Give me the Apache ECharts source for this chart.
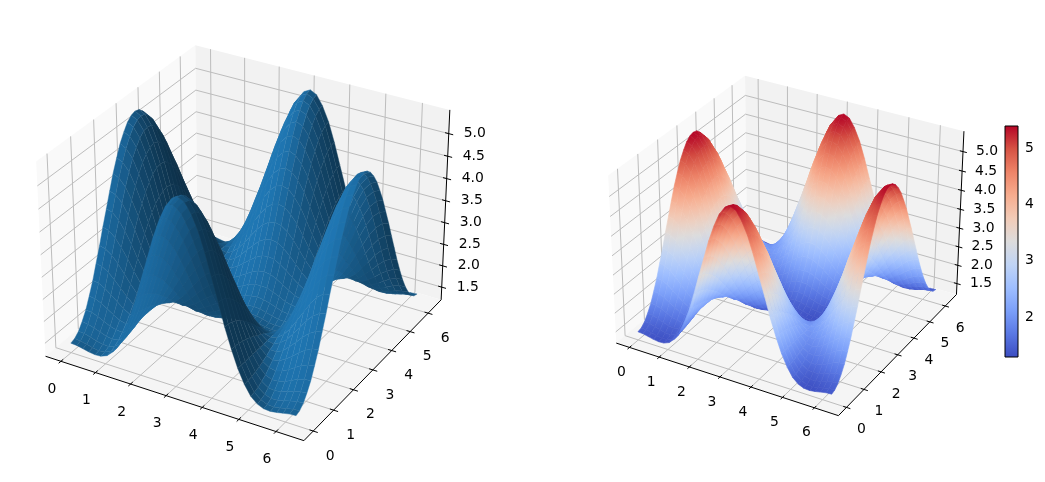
<!DOCTYPE html>
<html>
<head>
<meta charset="utf-8">
<style>html,body{margin:0;background:#fff}#main{width:1045px;height:482px}</style>
<script src="https://cdn.jsdelivr.net/npm/echarts@6/dist/echarts.min.js"></script>
</head>
<body>
<div id="main"></div>
<script>
// surface samples, one row per x
const gridX = [0,0.17,0.35,0.52,0.7,0.87,1.05,1.22,1.4,1.57,1.75,1.92,2.09,2.27,2.44,2.62,2.79,2.97,3.14,3.32,3.49,3.67,3.84,4.01,4.19,4.36,4.54,4.71,4.89,5.06,5.24,5.41,5.59,5.76,5.93,6.11,6.28];
const gridY = gridX;
const rowA = [1.42,1.45,1.54,1.69,1.88,2.13,2.41,2.73,3.06,3.41,3.75,4.08,4.40,4.68,4.93,5.12,5.27,5.36,5.39,5.36,5.27,5.12,4.93,4.68,4.40,4.08,3.75,3.41,3.06,2.73,2.41,2.13,1.88,1.69,1.54,1.45,1.42];
const rowB = [1.41,1.44,1.53,1.67,1.87,2.11,2.39,2.70,3.02,3.37,3.71,4.03,4.34,4.62,4.86,5.06,5.20,5.29,5.32,5.29,5.20,5.06,4.86,4.62,4.34,4.03,3.71,3.37,3.02,2.70,2.39,2.11,1.87,1.67,1.53,1.44,1.41];
const rowC = [1.38,1.41,1.49,1.63,1.82,2.05,2.31,2.61,2.92,3.25,3.57,3.89,4.18,4.45,4.68,4.86,5.00,5.09,5.11,5.09,5.00,4.86,4.68,4.45,4.18,3.89,3.57,3.25,2.92,2.61,2.31,2.05,1.82,1.63,1.49,1.41,1.38];
const rowD = [1.35,1.37,1.45,1.58,1.75,1.96,2.21,2.48,2.77,3.07,3.37,3.66,3.93,4.17,4.38,4.56,4.68,4.76,4.79,4.76,4.68,4.56,4.38,4.17,3.93,3.66,3.37,3.07,2.77,2.48,2.21,1.96,1.75,1.58,1.45,1.37,1.35];
const rowE = [1.33,1.35,1.42,1.53,1.68,1.87,2.09,2.33,2.58,2.85,3.11,3.37,3.61,3.82,4.01,4.16,4.28,4.35,4.37,4.35,4.28,4.16,4.01,3.82,3.61,3.37,3.11,2.85,2.58,2.33,2.09,1.87,1.68,1.53,1.42,1.35,1.33];
const rowF = [1.34,1.36,1.41,1.51,1.64,1.79,1.98,2.18,2.39,2.61,2.83,3.05,3.25,3.43,3.59,3.72,3.81,3.87,3.89,3.87,3.81,3.72,3.59,3.43,3.25,3.05,2.83,2.61,2.39,2.18,1.98,1.79,1.64,1.51,1.41,1.36,1.34];
const rowG = [1.40,1.42,1.46,1.53,1.63,1.75,1.90,2.05,2.22,2.39,2.57,2.73,2.89,3.03,3.15,3.25,3.33,3.37,3.39,3.37,3.33,3.25,3.15,3.03,2.89,2.73,2.57,2.39,2.22,2.05,1.90,1.75,1.63,1.53,1.46,1.42,1.40];
const rowH = [1.53,1.54,1.57,1.63,1.69,1.78,1.87,1.98,2.10,2.21,2.33,2.45,2.55,2.65,2.73,2.80,2.85,2.88,2.89,2.88,2.85,2.80,2.73,2.65,2.55,2.45,2.33,2.21,2.10,1.98,1.87,1.78,1.69,1.63,1.57,1.54,1.53];
const rowI = [1.75,1.76,1.77,1.80,1.83,1.87,1.92,1.98,2.03,2.10,2.16,2.21,2.27,2.32,2.36,2.39,2.42,2.44,2.44,2.44,2.42,2.39,2.36,2.32,2.27,2.21,2.16,2.10,2.03,1.98,1.92,1.87,1.83,1.80,1.77,1.76,1.75];
const rowJ = [2.06,2.06,2.06,2.06,2.06,2.06,2.06,2.06,2.06,2.06,2.06,2.06,2.06,2.06,2.06,2.06,2.06,2.06,2.06,2.06,2.06,2.06,2.06,2.06,2.06,2.06,2.06,2.06,2.06,2.06,2.06,2.06,2.06,2.06,2.06,2.06,2.06];
const rowK = [2.44,2.44,2.42,2.39,2.36,2.32,2.27,2.21,2.16,2.10,2.03,1.98,1.92,1.87,1.83,1.80,1.77,1.76,1.75,1.76,1.77,1.80,1.83,1.87,1.92,1.98,2.03,2.10,2.16,2.21,2.27,2.32,2.36,2.39,2.42,2.44,2.44];
const rowL = [2.89,2.88,2.85,2.80,2.73,2.65,2.55,2.45,2.33,2.21,2.10,1.98,1.87,1.78,1.69,1.63,1.57,1.54,1.53,1.54,1.57,1.63,1.69,1.78,1.87,1.98,2.10,2.21,2.33,2.45,2.55,2.65,2.73,2.80,2.85,2.88,2.89];
const rowM = [3.39,3.37,3.33,3.25,3.15,3.03,2.89,2.73,2.57,2.39,2.22,2.05,1.90,1.75,1.63,1.53,1.46,1.42,1.40,1.42,1.46,1.53,1.63,1.75,1.90,2.05,2.22,2.39,2.57,2.73,2.89,3.03,3.15,3.25,3.33,3.37,3.39];
const rowN = [3.89,3.87,3.81,3.72,3.59,3.43,3.25,3.05,2.83,2.61,2.39,2.18,1.98,1.79,1.64,1.51,1.41,1.36,1.34,1.36,1.41,1.51,1.64,1.79,1.98,2.18,2.39,2.61,2.83,3.05,3.25,3.43,3.59,3.72,3.81,3.87,3.89];
const rowO = [4.37,4.35,4.28,4.16,4.01,3.82,3.61,3.37,3.11,2.85,2.58,2.33,2.09,1.87,1.68,1.53,1.42,1.35,1.33,1.35,1.42,1.53,1.68,1.87,2.09,2.33,2.58,2.85,3.11,3.37,3.61,3.82,4.01,4.16,4.28,4.35,4.37];
const rowP = [4.79,4.76,4.68,4.56,4.38,4.17,3.93,3.66,3.37,3.07,2.77,2.48,2.21,1.96,1.75,1.58,1.45,1.37,1.35,1.37,1.45,1.58,1.75,1.96,2.21,2.48,2.77,3.07,3.37,3.66,3.93,4.17,4.38,4.56,4.68,4.76,4.79];
const rowQ = [5.11,5.09,5.00,4.86,4.68,4.45,4.18,3.89,3.57,3.25,2.92,2.61,2.31,2.05,1.82,1.63,1.49,1.41,1.38,1.41,1.49,1.63,1.82,2.05,2.31,2.61,2.92,3.25,3.57,3.89,4.18,4.45,4.68,4.86,5.00,5.09,5.11];
const rowR = [5.32,5.29,5.20,5.06,4.86,4.62,4.34,4.03,3.71,3.37,3.02,2.70,2.39,2.11,1.87,1.67,1.53,1.44,1.41,1.44,1.53,1.67,1.87,2.11,2.39,2.70,3.02,3.37,3.71,4.03,4.34,4.62,4.86,5.06,5.20,5.29,5.32];
const rowS = [5.39,5.36,5.27,5.12,4.93,4.68,4.40,4.08,3.75,3.41,3.06,2.73,2.41,2.13,1.88,1.69,1.54,1.45,1.42,1.45,1.54,1.69,1.88,2.13,2.41,2.73,3.06,3.41,3.75,4.08,4.40,4.68,4.93,5.12,5.27,5.36,5.39];
const surfaceZ = [rowA,rowB,rowC,rowD,rowE,rowF,rowG,rowH,rowI,rowJ,rowK,rowL,rowM,rowN,rowO,rowP,rowQ,rowR,rowS,rowR,rowQ,rowP,rowO,rowN,rowM,rowL,rowK,rowJ,rowI,rowH,rowG,rowF,rowE,rowD,rowC,rowB,rowA];

const xTicks = [0,1,2,3,4,5,6];
const yTicks = [0,1,2,3,4,5,6];
const zTicks = ['1.5','2.0','2.5','3.0','3.5','4.0','4.5','5.0'];
const colorbarTicks = [2,3,4,5];
const colorMin = 1.29, colorMax = 5.39;
const coolwarm = ['#3b4cc0','#5977e3','#7b9ff9','#9ebeff','#c0d4f5','#dddcdc','#f2cbb7','#f7ac8e','#ee8468','#d65244','#b40426'];

const FONT = {fontFamily: 'DejaVu Sans', fontSize: 13.9, fill: '#000'};
const XLIM = [-0.45, 6.74], YLIM = [-0.45, 6.74], ZLIM = [1.2, 5.52];
const BOX = [1.1905, 1.1905, 0.8929];
const LIGHT = [-0.667, -0.667, 0.333];

const leftView = {cx: 247, cy: 233.5, s: 2486, xOff: [-9, 28], yOff: [17, 25], zOff: 26};
const rightView = {cx: 789.5, cy: 237.5, s: 2138, xOff: [-8, 25], yOff: [15, 22], zOff: 24};

// same view as mplot3d default: elev 30, azim -60, dist 10
function project(v, x, y, z) {
  let dx = ((x - XLIM[0]) / (XLIM[1] - XLIM[0]) - 0.5) * BOX[0]
  let dy = ((y - YLIM[0]) / (YLIM[1] - YLIM[0]) - 0.5) * BOX[1]
  let dz = ((z - ZLIM[0]) / (ZLIM[1] - ZLIM[0]) - 0.5) * BOX[2]
  let xv = 0.866 * dx + 0.5 * dy
  let yv = -0.25 * dx + 0.433 * dy + 0.866 * dz
  let depth = 10 - (0.433 * dx - 0.75 * dy + 0.5 * dz)
  return [v.cx + v.s * xv / depth, v.cy - v.s * yv / depth, depth]
}

function hexRgb(h) {
  return [parseInt(h.slice(1, 3), 16), parseInt(h.slice(3, 5), 16), parseInt(h.slice(5, 7), 16)]
}

function coolwarmAt(z) {
  let t = Math.max(0, Math.min(1, (z - colorMin) / (colorMax - colorMin))) * (coolwarm.length - 1)
  let i = Math.min(coolwarm.length - 2, Math.floor(t))
  let a = hexRgb(coolwarm[i]), b = hexRgb(coolwarm[i + 1]), f = t - i
  return `rgb(${a.map((c, k) => Math.round(c + (b[k] - c) * f)).join(',')})`
}

function frameItems(v) {
  let items = []
  let poly = (pts, fill) => items.push({type: 'polygon', pts: pts.map(p => project(v, ...p)), fill})
  let line = (a, b, color, lw) => items.push({type: 'line', pts: [project(v, ...a), project(v, ...b)], color, lw})
  let text = (p, off, str, align) => {
    let q = project(v, ...p)
    items.push({type: 'text', at: q, off, str, align})
  }
  const [x0, x1] = XLIM, [y0, y1] = YLIM, [z0, z1] = ZLIM
  poly([[x0, y0, z0], [x0, y1, z0], [x0, y1, z1], [x0, y0, z1]], '#f9f9f9')
  poly([[x0, y1, z0], [x1, y1, z0], [x1, y1, z1], [x0, y1, z1]], '#f2f2f2')
  poly([[x0, y0, z0], [x1, y0, z0], [x1, y1, z0], [x0, y1, z0]], '#f5f5f5')

  const grid = '#bdbdbd'
  xTicks.forEach(t => {
    line([t, y0, z0], [t, y1, z0], grid, 1)
    line([t, y1, z0], [t, y1, z1], grid, 1)
  })
  yTicks.forEach(t => {
    line([x0, t, z0], [x1, t, z0], grid, 1)
    line([x0, t, z0], [x0, t, z1], grid, 1)
  })
  zTicks.forEach(s => {
    let t = +s
    line([x0, y0, t], [x0, y1, t], grid, 1)
    line([x0, y1, t], [x1, y1, t], grid, 1)
  })

  line([x0, y0, z0], [x1, y0, z0], '#000', 1)
  line([x1, y0, z0], [x1, y1, z0], '#000', 1)
  line([x1, y1, z0], [x1, y1, z1], '#000', 1)
  xTicks.forEach(t => {
    line([t, y0 - 0.1, z0], [t, y0 + 0.1, z0], '#000', 1)
    text([t, y0, z0], v.xOff, String(t), 'center')
  })
  yTicks.forEach(t => {
    line([x1 - 0.1, t, z0], [x1 + 0.12, t, z0], '#000', 1)
    text([x1, t, z0], v.yOff, String(t), 'center')
  })
  zTicks.forEach(s => {
    line([x1 - 0.1, y1, +s], [x1 + 0.12, y1, +s], '#000', 1)
    text([x1, y1, +s], [v.zOff, 0], s, 'center')
  })
  return items
}

function surfaceCells(v) {
  let cells = []
  for (let i = 0; i + 1 < gridX.length; i++) {
    for (let j = 0; j + 1 < gridY.length; j++) {
      let c = [[i, j], [i + 1, j], [i + 1, j + 1], [i, j + 1]].map(([a, b]) => [gridX[a], gridY[b], surfaceZ[a][b]])
      let pts = c.map(p => project(v, ...p))
      cells.push({c, pts, depth: pts.reduce((s, p) => s + p[2], 0) / 4})
    }
  }
  return cells.sort((a, b) => b.depth - a.depth)
}

function shadedItems(v) {
  const base = [31, 119, 180]
  return surfaceCells(v).map(({c, pts}) => {
    let d1 = [c[2][0] - c[0][0], c[2][1] - c[0][1], c[2][2] - c[0][2]]
    let d2 = [c[3][0] - c[1][0], c[3][1] - c[1][1], c[3][2] - c[1][2]]
    let n = [d1[1] * d2[2] - d1[2] * d2[1], d1[2] * d2[0] - d1[0] * d2[2], d1[0] * d2[1] - d1[1] * d2[0]]
    let len = Math.hypot(...n) || 1
    let shade = (n[0] * LIGHT[0] + n[1] * LIGHT[1] + n[2] * LIGHT[2]) / len
    let k = 0.3 + 0.7 * (shade + 1) / 2
    let rgb = base.map(b => Math.round(b * k))
    return {
      type: 'polygon', pts, fill: `rgb(${rgb})`,
      stroke: `rgb(${rgb.map(b => Math.round(b + (255 - b) * 0.05))})`, lw: 0.4
    }
  })
}

function coolwarmItems(v) {
  return surfaceCells(v).map(({c, pts}) => {
    let lo = 0, hi = 0
    c.forEach((p, k) => {
      if (p[2] < c[lo][2]) lo = k
      if (p[2] > c[hi][2]) hi = k
    })
    return {type: 'polygon', pts, grad: {from: pts[lo], to: pts[hi], zFrom: c[lo][2], zTo: c[hi][2]}}
  })
}

function renderList(items) {
  return (params, api) => {
    let it = items[params.dataIndex]
    if (it.type === 'text') {
      let p = api.coord([it.at[0], it.at[1]])
      return {
        type: 'text', x: p[0] + it.off[0], y: p[1] + it.off[1],
        style: Object.assign({text: it.str, align: it.align, verticalAlign: 'middle'}, FONT)
      }
    }
    let pts = it.pts.map(p => api.coord([p[0], p[1]]))
    if (it.type === 'line') {
      return {
        type: 'line',
        shape: {x1: pts[0][0], y1: pts[0][1], x2: pts[1][0], y2: pts[1][1]},
        style: {stroke: it.color, lineWidth: it.lw}
      }
    }
    let fill = it.fill, stroke = it.stroke || it.fill
    if (it.grad) {
      let a = api.coord([it.grad.from[0], it.grad.from[1]])
      let b = api.coord([it.grad.to[0], it.grad.to[1]])
      if (Math.hypot(a[0] - b[0], a[1] - b[1]) < 0.5) {
        fill = coolwarmAt((it.grad.zFrom + it.grad.zTo) / 2)
      } else {
        fill = {
          type: 'linear', global: true, x: a[0], y: a[1], x2: b[0], y2: b[1],
          colorStops: [0, 0.5, 1].map(o => ({
            offset: o, color: coolwarmAt(it.grad.zFrom + (it.grad.zTo - it.grad.zFrom) * o)
          }))
        }
      }
      stroke = fill
    }
    return {
      type: 'polygon', shape: {points: pts},
      style: {fill, stroke: stroke, lineWidth: it.lw === undefined ? (it.grad ? 0.6 : 0) : it.lw}
    }
  }
}

function listSeries(items) {
  return {
    type: 'custom', coordinateSystem: 'cartesian2d', xAxisIndex: 0, yAxisIndex: 0,
    silent: true, progressive: 0, animation: false, clip: false,
    data: items.map(() => [0, 0]),
    renderItem: renderList(items)
  }
}

const chart = echarts.init(document.getElementById('main'), null, {renderer: 'canvas'})
chart.setOption({
  animation: false,
  backgroundColor: '#fff',
  grid: [
    {left: 0, right: 0, top: 0, bottom: 0},
    {left: 1005, top: 126, width: 13, height: 231}
  ],
  xAxis: [
    {type: 'value', gridIndex: 0, min: 0, max: 1045, show: false},
    {type: 'value', gridIndex: 1, min: 0, max: 1, show: false}
  ],
  yAxis: [
    {type: 'value', gridIndex: 0, min: 0, max: 482, inverse: true, show: false},
    {
      type: 'value', gridIndex: 1, min: colorMin, max: colorMax, position: 'right',
      splitLine: {show: false}, axisLine: {show: false},
      axisTick: {show: true, length: 4, customValues: colorbarTicks, lineStyle: {color: '#000', width: 1}},
      axisLabel: {show: true, customValues: colorbarTicks, margin: 7, color: '#000', fontFamily: 'DejaVu Sans', fontSize: 13.9}
    }
  ],
  series: [
    listSeries(frameItems(leftView)),
    listSeries(shadedItems(leftView)),
    listSeries(frameItems(rightView)),
    listSeries(coolwarmItems(rightView)),
    {
      type: 'custom', coordinateSystem: 'cartesian2d', xAxisIndex: 1, yAxisIndex: 1,
      silent: true, animation: false,
      data: [[0, colorMin, 1, colorMax]],
      renderItem: (params, api) => {
        let a = api.coord([api.value(0), api.value(1)])
        let b = api.coord([api.value(2), api.value(3)])
        return {
          type: 'rect',
          shape: {x: a[0], y: b[1], width: b[0] - a[0], height: a[1] - b[1]},
          style: {
            stroke: '#000', lineWidth: 1,
            fill: {
              type: 'linear', x: 0, y: 1, x2: 0, y2: 0,
              colorStops: coolwarm.map((c, i) => ({offset: i / (coolwarm.length - 1), color: c}))
            }
          }
        }
      }
    }
  ]
})
</script>
</body>
</html>
